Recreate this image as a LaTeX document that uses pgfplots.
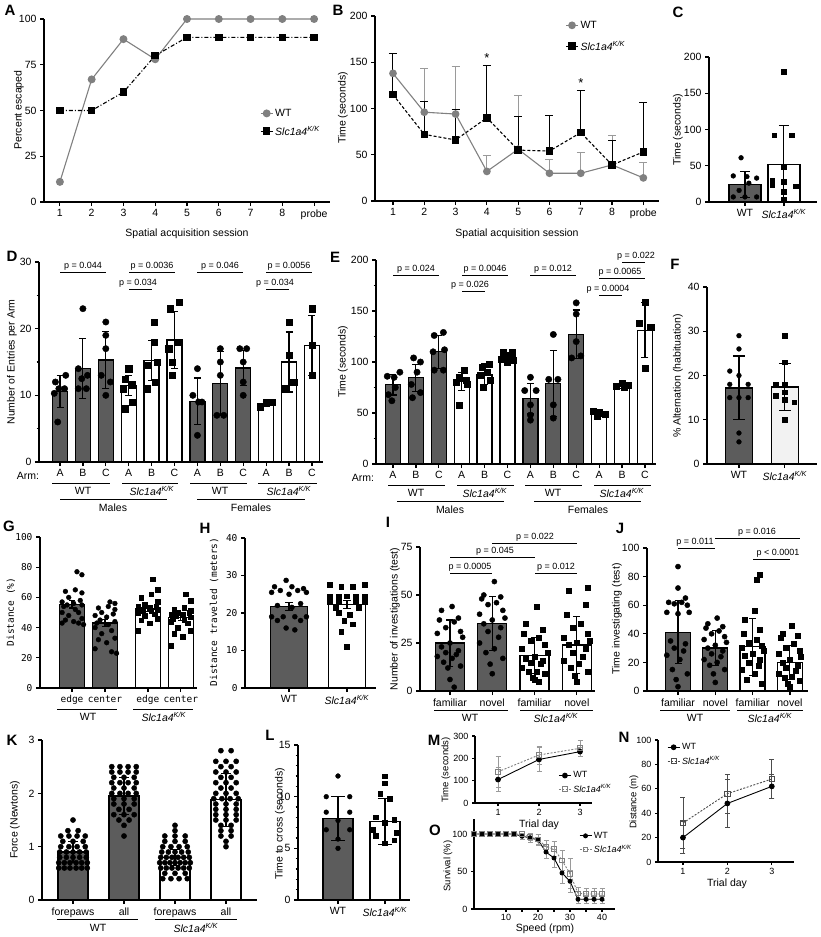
\documentclass[border=0pt]{standalone}
\usepackage{fontspec}
\setmainfont{Liberation Sans}
\newfontfamily\monof{DejaVu Sans Mono}
\usepackage{pgfplots}
\pgfplotsset{compat=1.18}
\definecolor{wtbar}{HTML}{5C5C5C}
\definecolor{wtgray}{HTML}{808080}
\definecolor{errgray}{HTML}{9A9A9A}
\definecolor{ltbar}{HTML}{F2F2F2}
\newcommand{\slc}{\textit{Slc1a4}\textsuperscript{\textit{K/K}}}
\newcommand{\fs}{\fontsize{10.5}{12}\selectfont}
\newcommand{\sfs}{\fontsize{9}{10}\selectfont}
\newcommand{\mfs}{\fontsize{9.5}{11}\selectfont}
% p-value bracket: x1, x2, y, text x, text
\newcommand{\pv}[5]{%
  \draw[line width=0.8pt] (#1,#3) -- (#2,#3);
  \node[anchor=south, inner sep=1pt, font=\fontsize{9}{10}\selectfont] at (#4,#3) {#5};}
\pgfplotsset{
  prism/.style={
    scale only axis, clip=false, anchor=south west,
    axis x line*=bottom, axis y line*=left,
    axis line style={line width=1.4pt},
    tick align=outside, major tick length=4pt, minor tick length=2.5pt,
    every tick/.style={black, line width=1.2pt},
    tick label style={font=\fs},
    /pgf/number format/assume math mode=true,
    ymin=0,
  },
  bars/.style={ybar, bar shift=0pt, bar width=#1, draw=black, line width=1.3pt},
  errb/.style={error bars/.cd, y dir=both, y explicit,
    error bar style={line width=1.1pt, black, solid},
    error mark options={rotate=90, mark size=#1, line width=1.1pt, black, solid}},
  errb/.default=4pt,
  lerr/.style={error bars/.cd, y dir=both, y explicit,
    error bar style={line width=0.8pt, #1, solid},
    error mark options={rotate=90, mark size=2.5pt, line width=0.8pt, #1, solid}},
  perr/.style={error bars/.cd, y dir=plus, y explicit,
    error bar style={line width=1pt, #1, solid},
    error mark options={rotate=90, mark size=4pt, line width=1pt, #1, solid}},
  dots/.style={only marks, mark=*, mark size=#1, black},
  sqs/.style={only marks, mark=square*, mark size=#1, black},
  leg/.style={legend image code/.code={\draw[mark repeat=2,mark phase=2,##1] plot coordinates {(0pt,0pt) (6pt,0pt) (12pt,0pt)};}},
}
\begin{document}
\begin{tikzpicture}[font=\fs]
\path[use as bounding box] (0pt,0pt) rectangle (821pt,-937pt);

% ---------------- A
\begin{axis}[prism, at={(44pt,-202pt)}, width=286pt, height=183pt,
  xmin=0.5, xmax=9.5, ymax=100, xtick={1,2,3,4,5,6,7,8,9},
  xticklabels={1,2,3,4,5,6,7,8,probe}, ytick={0,25,50,75,100},
  legend style={draw=none, fill=none, font=\fs, inner sep=0pt, row sep=4pt,
    at={(axis description cs:0.755,0.52)}, anchor=north west},
  legend cell align=left, leg]
\addplot[wtgray, line width=1.1pt, mark=*, mark size=3.4pt, mark options={fill=wtgray}]
  coordinates {(1,11) (2,67) (3,89) (4,78) (5,100) (6,100) (7,100) (8,100) (9,100)};
\addlegendentry{WT}
\addplot[black, line width=1.1pt, dash pattern=on 4pt off 2pt on 1pt off 2pt, mark=square*, mark size=3.2pt, mark options={solid}]
  coordinates {(1,50) (2,50) (3,60) (4,80) (5,90) (6,90) (7,90) (8,90) (9,90)};
\addlegendentry{\slc}
\end{axis}

% ---------------- B
\begin{axis}[prism, at={(375pt,-201pt)}, width=284pt, height=185pt,
  xmin=0.425, xmax=9.5, ymax=200, xtick={1,2,3,4,5,6,7,8,9},
  xticklabels={1,2,3,4,5,6,7,8,probe}, ytick={0,50,100,150,200},
  legend style={draw=none, fill=none, font=\fs, inner sep=0pt, row sep=7pt,
    at={(axis description cs:0.67,0.985)}, anchor=north west},
  legend cell align=left, leg]
\addplot[wtgray, line width=1.1pt, mark=*, mark size=3.3pt, mark options={fill=wtgray}, perr=errgray]
  coordinates {(1,138)+-(0,22) (2,96)+-(0,47) (3,94)+-(0,51) (4,32)+-(0,17) (5,56)+-(0,58)
  (6,30)+-(0,15) (7,30)+-(0,22) (8,39)+-(0,32) (9,25)+-(0,17)};
\addlegendentry{WT}
\addplot[black, line width=1.1pt, dash pattern=on 3pt off 2pt, mark=square*, mark size=3.2pt, mark options={solid}, perr=black]
  coordinates {(1,115)+-(0,45) (2,72)+-(0,36) (3,66)+-(0,33) (4,90)+-(0,57) (5,55)+-(0,36)
  (6,54)+-(0,38) (7,74)+-(0,46) (8,39)+-(0,26) (9,53)+-(0,53)};
\addlegendentry{\slc}
\end{axis}

% ---------------- C
\begin{axis}[prism, at={(709pt,-202pt)}, width=108pt, height=145pt,
  xmin=-0.923, xmax=1.85, ymax=200, xtick={0,1}, xticklabels={WT,\slc},
  ytick={0,50,100,150,200}]
\addplot[bars=32pt, fill=wtbar, errb=5pt] coordinates {(0,24)+-(0,18)};
\addplot[bars=32pt, fill=white, errb=5pt] coordinates {(1,52)+-(0,53)};
\addplot[dots=2.4pt] coordinates {(-0.1,61) (-0.3,36) (0.05,35) (0.3,33) (0.1,26) (-0.15,16) (-0.3,7) (0,7) (0.3,7)};
\addplot[sqs=2.3pt] coordinates {(1,180) (0.75,92) (1.2,92) (1,48) (0.7,30) (1,28) (0.7,24) (1.3,22) (1,14) (1,4)};
\end{axis}

% ---------------- D
\begin{axis}[prism, at={(39pt,-462pt)}, width=284.4pt, height=200pt,
  xmin=-0.917, xmax=11.5, ymax=30, ytick={0,10,20,30}, minor y tick num=1,
  xtick={0,...,11}, xticklabels={A,B,C,A,B,C,A,B,C,A,B,C}]
\addplot[bars=15pt, fill=wtbar, errb=3.5pt] coordinates {(0,10.6)+-(0,2.4) (1,14)+-(0,4.5) (2,15.3)+-(0,4.3)
  (6,9.1)+-(0,3.5) (7,11.8)+-(0,4.8) (8,14.1)+-(0,2.6)};
\addplot[bars=15pt, fill=white, errb=3.5pt] coordinates {(3,11.5)+-(0,1.5) (4,15.2)+-(0,3) (5,18.3)+-(0,4.3)
  (9,8.7)+-(0,0.4) (10,15)+-(0,4.5) (11,17.5)+-(0,4.5)};
\addplot[dots=3.2pt] coordinates {(-0.2,12) (0.25,13) (-0.05,11) (0.2,11) (-0.25,10.3) (-0.1,6)
  (1,23) (0.8,14) (1.2,13) (0.8,11) (1.15,11) (0.95,12.5)
  (2,21) (2,19) (2,17) (1.8,13) (2.2,12) (2,10)
  (6,14) (5.8,10) (6.2,9) (6.05,9) (6,4)
  (7,17) (7,15) (7,13) (6.85,7) (7.15,7)
  (7.85,17) (8.15,17) (8,15) (8,12) (8,10)};
\addplot[sqs=3.1pt] coordinates {(3,14) (2.85,12.4) (3.15,11.6) (2.75,11) (3.15,9) (2.85,8)
  (4.1,21) (4.1,18) (3.8,14.5) (4.25,15) (3.8,11) (4.15,12)
  (4.8,23) (5.2,24) (4.75,17) (5.15,18) (4.9,15) (4.9,13)
  (8.75,8.3) (9,9) (9.25,9)
  (10,21) (10,16) (9.8,11) (10.2,12)
  (11,23) (11,17.5) (11,13)};
\end{axis}

% ---------------- E
\begin{axis}[prism, at={(376pt,-464pt)}, width=280.4pt, height=204pt,
  xmin=-0.742, xmax=11.5, ymax=200, ytick={0,50,100,150,200}, minor y tick num=1,
  xtick={0,...,11}, xticklabels={A,B,C,A,B,C,A,B,C,A,B,C}]
\addplot[bars=15pt, fill=wtbar, errb=3.5pt] coordinates {(0,77.7)+-(0,10) (1,84.5)+-(0,13) (2,110)+-(0,16)
  (6,64)+-(0,15) (7,79)+-(0,32) (8,127)+-(0,24)};
\addplot[bars=15pt, fill=white, errb=3.5pt] coordinates {(3,81)+-(0,9) (4,88)+-(0,10) (5,105)+-(0,4)
  (9,50)+-(0,3) (10,77)+-(0,3) (11,131)+-(0,27)};
\addplot[dots=3.2pt] coordinates {(-0.25,86) (0.05,85) (0.3,90) (0.1,75) (-0.2,68) (-0.05,62)
  (0.9,104) (1.2,100) (1.05,90) (0.8,78) (1.2,70) (0.85,65)
  (1.8,126) (2.2,129) (1.75,110) (2.25,112) (1.8,92) (2.2,92)
  (6,85) (5.75,72) (6.25,72) (6,58) (6,48) (6,43)
  (7,127) (6.8,83) (7.2,83) (7,58) (7,45)
  (8,158) (8,147) (8,120) (7.8,104) (8.2,106)};
\addplot[sqs=3.1pt] coordinates {(3.1,92) (2.9,85) (3.2,82) (2.75,80) (3.25,78) (2.9,58)
  (4.2,98) (3.9,95) (4.1,90) (3.8,87) (4.25,82) (3.95,75)
  (4.8,110) (5.2,110) (5,107) (4.75,103) (5.25,102) (5,100)
  (8.75,52) (9,50) (9.25,49) (8.9,47)
  (9.75,76) (10,79) (10.25,77) (10.1,75)
  (11,159) (10.75,138) (11.25,134) (11,94)};
\end{axis}

% ---------------- F
\begin{axis}[prism, at={(707pt,-464pt)}, width=110pt, height=177pt,
  xmin=-0.696, xmax=1.7, ymax=40, ytick={0,10,20,30,40},
  xtick={0,1}, xticklabels={WT,\slc}]
\addplot[bars=27pt, fill=wtbar, errb=6pt] coordinates {(0,17.2)+-(0,7.2)};
\addplot[bars=27pt, fill=ltbar, errb=6pt] coordinates {(1,17.4)+-(0,5.4)};
\addplot[dots=2.4pt] coordinates {(0,29) (0,26) (-0.2,21) (0,20) (-0.2,18) (0.2,18) (-0.2,15) (0,15) (0.2,15) (0,7) (0,5)};
\addplot[sqs=2.3pt] coordinates {(1,29) (1,23) (0.8,18) (1,18) (0.8,15.5) (1,16.2) (1.2,14) (1,14.5) (1,10)};
\end{axis}

% ---------------- G
\begin{axis}[prism, at={(40pt,-688pt)}, width=157.4pt, height=151pt,
  xmin=-0.97, xmax=3.8, ymax=100, ytick={0,20,40,60,80,100},
  tick label style={font=\monof\mfs},
  xtick={0,1,2.3,3.3}, xticklabels={edge,center,edge,center}]
\addplot[bars=25pt, fill=wtbar, errb=3pt] coordinates {(0,55.5)+-(0,2.5) (1,43)+-(0,2.5)};
\addplot[bars=25pt, fill=white, errb=3pt] coordinates {(2.3,52.5)+-(0,2) (3.3,46.5)+-(0,2)};
\addplot[dots=2.4pt] coordinates {(0.15,77) (0.3,75) (0.1,65) (-0.2,64) (0.3,63) (-0.1,60) (0.25,58) (-0.3,57)
  (0.05,56) (-0.15,55) (0.3,55) (-0.25,54) (0.1,52) (-0.3,50) (0.2,50) (-0.1,48) (0.3,46) (-0.2,45)
  (0.05,44) (-0.3,43) (0.2,43) (0.35,42)
  (1.15,57) (1.3,56) (1.1,54) (0.8,53) (1.3,52) (0.9,50) (1.25,49) (0.7,48) (1.05,47) (0.85,45)
  (1.3,44) (0.75,43) (1.1,42) (0.7,40) (1.2,38) (0.9,36) (1.3,33) (0.8,32) (1.05,30) (0.7,26)
  (1.2,24) (1.35,23)};
\addplot[sqs=2.3pt] coordinates {(2.45,72) (2.6,65) (2.4,62) (2.1,60) (2.6,57) (2.2,55) (2.55,54) (2.0,54)
  (2.35,53) (2.15,52) (2.6,52) (2.05,51) (2.4,51) (2.0,50) (2.5,49) (2.2,48) (2.6,46) (2.1,45)
  (2.35,43) (2.0,38)
  (3.45,62) (3.6,58) (3.4,53) (3.1,52) (3.6,51) (3.2,50) (3.55,50) (3.0,49) (3.35,49) (3.15,48)
  (3.6,47) (3.05,46) (3.4,45) (3.0,44) (3.5,43) (3.2,40) (3.6,38) (3.1,36) (3.35,34) (3.0,28)};
\end{axis}

% ---------------- H
\begin{axis}[prism, at={(245pt,-688pt)}, width=131pt, height=150pt,
  xmin=-0.759, xmax=1.5, ymax=40, ytick={0,10,20,30,40},
  yticklabel style={font=\monof\mfs},
  xtick={0,1}, xticklabels={WT,\slc}]
\addplot[bars=37pt, fill=wtbar, errb=4pt] coordinates {(0,21.7)+-(0,1)};
\addplot[bars=37pt, fill=white, errb=4pt] coordinates {(1,22.3)+-(0,1)};
\addplot[dots=2.5pt] coordinates {(-0.05,28.7) (-0.25,27) (0.05,27) (0.25,26.5) (-0.15,26) (0.15,26) (-0.3,25.5)
  (0.3,25.5) (0,25) (-0.2,22) (0.2,22.5) (0.05,21.5) (-0.3,19) (-0.1,19) (0.1,19) (0.3,19)
  (-0.2,18) (0.2,18) (-0.05,16) (0.1,15.5)};
\addplot[sqs=2.4pt] coordinates {(0.7,27.5) (0.9,27) (1.1,27) (1.3,27.5) (0.7,24.5) (0.85,24.5) (1,24.5)
  (1.15,24.5) (1.3,24.5) (0.7,23) (0.85,23) (1.15,23) (1.3,23) (0.8,21.5) (1.2,21.5) (0.85,20)
  (1.05,19.5) (0.95,18) (1.1,17) (0.9,15) (1,11)};
\end{axis}

% ---------------- I
\begin{axis}[prism, at={(420pt,-691pt)}, width=175pt, height=144pt,
  xmin=-0.709, xmax=3.43, ymax=75, ytick={0,25,50,75},
  xtick={0,1,2,3}, xticklabels={familiar,novel,familiar,novel}]
\addplot[bars=29pt, fill=wtbar, errb=3.5pt] coordinates {(0,25)+-(0,12) (1,35)+-(0,14)};
\addplot[bars=29pt, fill=white, errb=3.5pt] coordinates {(2,18.5)+-(0,9.5) (3,24)+-(0,15)};
\addplot[dots=2.6pt] coordinates {(0.05,44) (-0.2,42) (0.2,38) (-0.25,37) (0.1,36) (-0.1,33) (0.25,31) (-0.3,30)
  (0.3,28) (0,25) (-0.2,23) (0.2,21) (-0.1,20) (0.15,19) (-0.3,18) (0.05,17) (-0.15,15) (0.25,13)
  (-0.05,12) (0,6) (0.1,2)
  (1.05,57) (0.8,50) (1.2,49) (0.75,48) (1.1,46) (0.9,45) (1.25,42) (0.7,40) (1.3,38) (1,37)
  (0.8,35) (1.2,33) (0.9,31) (1.15,28) (0.7,25) (1.05,22) (0.85,20) (1.25,17) (0.95,14) (1,9)};
\addplot[sqs=2.5pt] coordinates {(2.05,44) (1.8,35) (2.2,32) (1.75,30) (2.1,28) (1.9,26) (2.25,24) (1.7,22)
  (2.3,20) (2,18) (1.8,17) (2.2,16) (1.9,15) (2.15,14) (1.7,12) (2.05,10) (1.85,10) (2.25,9)
  (1.95,7) (2,6) (2.1,5)
  (3.25,54) (2.8,52) (3.2,45) (2.75,40) (3.1,35) (2.9,33) (3.25,30) (2.7,28) (3.3,26) (3,25)
  (2.8,24) (3.2,22) (2.9,20) (3.15,18) (2.7,16) (3.05,14) (2.85,12) (3.25,10) (2.95,8) (3,5)};
\end{axis}

% ---------------- J
\begin{axis}[prism, at={(647pt,-691pt)}, width=160.8pt, height=143pt,
  xmin=-0.831, xmax=3.48, ymax=100, ytick={0,20,40,60,80,100},
  xtick={0,1,2,3}, xticklabels={familiar,novel,familiar,novel}]
\addplot[bars=25pt, fill=wtbar, errb=3.5pt] coordinates {(0,41)+-(0,22) (1,30)+-(0,12)};
\addplot[bars=25pt, fill=white, errb=3.5pt] coordinates {(2,31)+-(0,20) (3,20)+-(0,12)};
\addplot[dots=2.6pt] coordinates {(0,87) (0,72) (0.2,65) (-0.25,62) (0.1,62) (-0.1,61) (0.25,60) (-0.3,55)
  (0.3,55) (0,54) (-0.2,35) (0.2,33) (-0.1,30) (0.15,28) (-0.3,25) (0.05,22) (-0.15,15) (0.25,12)
  (-0.05,8) (0,3)
  (1.05,51) (0.8,47) (1.2,45) (0.75,44) (1.1,42) (0.9,40) (1.25,38) (0.7,36) (1.3,34) (1,32)
  (0.8,30) (1.2,28) (0.9,26) (1.15,24) (0.7,22) (1.05,20) (0.85,18) (1.25,15) (0.95,12) (1,6)};
\addplot[sqs=2.5pt] coordinates {(2.2,81) (2.1,78) (2.05,56) (1.8,50) (2.2,43) (1.75,40) (2.1,36) (1.9,34)
  (2.25,32) (1.7,30) (2.3,28) (2,26) (1.8,25) (2.2,22) (1.9,20) (2.15,18) (1.7,15) (2.05,12)
  (1.85,8) (2.25,5)
  (3.05,46) (2.8,40) (3.2,39) (2.75,37) (3.1,33) (2.9,30) (3.25,28) (2.7,26) (3.3,24) (3,22)
  (2.8,20) (3.2,18) (2.9,16) (3.15,14) (2.7,12) (3.05,10) (2.85,9) (3.25,7) (2.95,5) (3,3)};
\end{axis}

% ---------------- K
\begin{axis}[prism, at={(42pt,-900pt)}, width=214.6pt, height=160pt,
  xmin=-0.608, xmax=3.6, ymax=3, ytick={0,1,2,3},
  xtick={0,1,2,3}, xticklabels={forepaws,all,forepaws,all}]
\addplot[bars=30pt, fill=wtbar, errb=5pt] coordinates {(0,0.9)+-(0,0.2) (1,1.95)+-(0,0.35)};
\addplot[bars=30pt, fill=white, errb=5pt] coordinates {(2,0.8)+-(0,0.15) (3,1.88)+-(0,0.5)};
\addplot[dots=2.6pt] coordinates {
  (0,1.5)
  (-0.1,1.3) (0.1,1.3)
  (-0.24,1.2) (-0.08,1.2) (0.08,1.2) (0.24,1.2)
  (-0.2,1.1) (0,1.1) (0.2,1.1)
  (-0.24,1.0) (-0.08,1.0) (0.08,1.0) (0.24,1.0)
  (-0.26,0.9) (-0.13,0.9) (0,0.9) (0.13,0.9) (0.26,0.9)
  (-0.26,0.8) (-0.13,0.8) (0,0.8) (0.13,0.8) (0.26,0.8)
  (-0.28,0.7) (-0.17,0.7) (-0.06,0.7) (0.06,0.7) (0.17,0.7) (0.28,0.7)
  (-0.28,0.6) (-0.17,0.6) (-0.06,0.6) (0.06,0.6) (0.17,0.6) (0.28,0.6)
  (0.76,2.5) (0.92,2.5) (1.08,2.5) (1.24,2.5)
  (0.76,2.4) (0.92,2.4) (1.08,2.4) (1.24,2.4)
  (0.8,2.3) (1,2.3) (1.2,2.3)
  (0.76,2.2) (0.92,2.2) (1.08,2.2) (1.24,2.2)
  (0.8,2.1) (1,2.1) (1.2,2.1)
  (0.76,2.0) (0.92,2.0) (1.08,2.0) (1.24,2.0)
  (0.8,1.9) (1,1.9) (1.2,1.9)
  (0.8,1.8) (1,1.8) (1.2,1.8)
  (0.9,1.7) (1.1,1.7)
  (0.8,1.6) (1,1.6) (1.2,1.6)
  (0.9,1.5) (1.1,1.5)
  (1,1.4)
  (1,1.2)
  (2,1.4)
  (2,1.3)
  (1.8,1.2) (2,1.2) (2.2,1.2)
  (1.8,1.1) (2,1.1) (2.2,1.1)
  (1.76,1.0) (1.92,1.0) (2.08,1.0) (2.24,1.0)
  (1.74,0.9) (1.87,0.9) (2,0.9) (2.13,0.9) (2.26,0.9)
  (1.72,0.8) (1.83,0.8) (1.94,0.8) (2.06,0.8) (2.17,0.8) (2.28,0.8)
  (1.7,0.7) (1.8,0.7) (1.9,0.7) (2,0.7) (2.1,0.7) (2.2,0.7) (2.3,0.7)
  (1.72,0.6) (1.83,0.6) (1.94,0.6) (2.06,0.6) (2.17,0.6) (2.28,0.6)
  (1.8,0.5) (2,0.5) (2.2,0.5)
  (1.76,0.4) (1.92,0.4) (2.08,0.4) (2.24,0.4)
  (2.9,2.8) (3.1,2.8)
  (2.8,2.6) (3,2.6) (3.2,2.6)
  (2.9,2.5) (3.1,2.5)
  (2.8,2.4) (3,2.4) (3.2,2.4)
  (2.9,2.3) (3.1,2.3)
  (2.8,2.2) (3,2.2) (3.2,2.2)
  (2.9,2.1) (3.1,2.1)
  (2.8,2.0) (3,2.0) (3.2,2.0)
  (2.76,1.9) (2.92,1.9) (3.08,1.9) (3.24,1.9)
  (2.8,1.8) (3,1.8) (3.2,1.8)
  (2.8,1.7) (3,1.7) (3.2,1.7)
  (2.8,1.6) (3,1.6) (3.2,1.6)
  (2.8,1.5) (3,1.5) (3.2,1.5)
  (2.9,1.4) (3.1,1.4)
  (2.9,1.3) (3.1,1.3)
  (2.9,1.2) (3.1,1.2)
  (3,1.1)
  (3,1.0)};
\end{axis}

% ---------------- L
\begin{axis}[prism, at={(298pt,-900pt)}, width=111.9pt, height=155pt,
  xmin=-0.851, xmax=1.53, ymax=15, ytick={0,5,10,15}, minor y tick num=4,
  xtick={0,1}, xticklabels={WT,\slc}]
\addplot[bars=30pt, fill=wtbar, errb=7pt] coordinates {(0,7.9)+-(0,2.1)};
\addplot[bars=30pt, fill=white, errb=7pt] coordinates {(1,7.6)+-(0,2.2)};
\addplot[dots=2.4pt] coordinates {(0,12) (-0.25,10) (0.25,10) (-0.25,8.5) (0.25,8.5) (0,7.7) (-0.25,6.8) (0.25,6.8) (0,5.9) (0,5)};
\addplot[sqs=2.3pt] coordinates {(1,12) (1,11.3) (0.9,10.3) (1.1,9.8) (0.8,8) (1.2,7.8) (1,7.5) (0.75,6.8) (1.25,6.5) (0.8,6.2) (1.2,5.8) (1,5.5)};
\end{axis}

% ---------------- M
\begin{axis}[prism, at={(475pt,-803pt)}, width=117.3pt, height=67pt,
  xmin=0.439, xmax=3.3, ymax=300, ytick={0,100,200,300}, xtick={1,2,3},
  tick label style={font=\sfs}, major tick length=3pt,
  legend style={draw=none, fill=none, font=\sfs, inner sep=0pt, row sep=1pt,
    at={(axis description cs:0.71,0.5)}, anchor=north west},
  legend cell align=left, leg]
\addplot[black, line width=0.9pt, mark=*, mark size=2.4pt, lerr=errgray]
  coordinates {(1,105)+-(0,55) (2,195)+-(0,55) (3,230)+-(0,20)};
\addlegendentry{WT}
\addplot[wtgray, line width=0.9pt, dash pattern=on 2pt off 1.5pt, mark=square, mark size=2.4pt, mark options={solid}, lerr=errgray]
  coordinates {(1,140)+-(0,70) (2,215)+-(0,40) (3,245)+-(0,35)};
\addlegendentry{\slc}
\end{axis}

% ---------------- N
\begin{axis}[prism, at={(658pt,-862pt)}, width=136pt, height=122pt,
  xmin=0.438, xmax=3.5, ymax=100, ytick={0,20,40,60,80,100}, xtick={1,2,3},
  tick label style={font=\sfs}, major tick length=3pt,
  legend style={draw=none, fill=none, font=\sfs, inner sep=0pt, row sep=1pt,
    at={(axis description cs:0.066,0.99)}, anchor=north west},
  legend cell align=left, leg]
\addplot[black, line width=0.9pt, mark=*, mark size=2.4pt, lerr=black!70]
  coordinates {(1,20)+-(0,13) (2,48)+-(0,20) (3,62)+-(0,10)};
\addlegendentry{WT}
\addplot[black!70, line width=0.9pt, dash pattern=on 2pt off 1.5pt, mark=square, mark size=2.6pt, mark options={solid}, lerr=black!70]
  coordinates {(1,32)+-(0,21) (2,56)+-(0,16) (3,68)+-(0,16)};
\addlegendentry{\slc}
\end{axis}

% ---------------- O
\begin{axis}[prism, at={(474pt,-909pt)}, width=140.8pt, height=90pt,
  xmin=0, xmax=44, ymax=120, ytick={0,50,100}, xtick={10,20,30,40}, minor x tick num=1,
  tick label style={font=\sfs}, major tick length=3pt,
  xticklabel style={yshift=1.5pt},
  legend style={draw=none, fill=none, font=\sfs, inner sep=0pt, row sep=1pt,
    at={(axis description cs:0.745,0.88)}, anchor=north west},
  legend cell align=left, leg]
\addplot[black, line width=0.9pt, mark=*, mark size=2pt, lerr=errgray]
  coordinates {(0,100)+-(0,0) (2.5,100)+-(0,0) (5,100)+-(0,0) (7.5,100)+-(0,0) (10,100)+-(0,0)
  (12.5,100)+-(0,0) (15,97)+-(0,4) (17.5,95)+-(0,6) (20,92)+-(0,7) (22.5,76)+-(0,8)
  (25,68)+-(0,12) (27.5,48)+-(0,14) (30,37)+-(0,15) (32.5,13)+-(0,5) (35,13)+-(0,5)
  (37.5,13)+-(0,5) (40,13)+-(0,5)};
\addlegendentry{WT}
\addplot[wtgray, line width=0.9pt, dash pattern=on 2pt off 1.5pt, mark=square, mark size=2.2pt, mark options={solid}, lerr=errgray]
  coordinates {(0,100)+-(0,0) (2.5,100)+-(0,0) (5,100)+-(0,0) (7.5,100)+-(0,0) (10,100)+-(0,0)
  (12.5,100)+-(0,0) (15,100)+-(0,0) (17.5,96)+-(0,5) (20,93)+-(0,7) (22.5,83)+-(0,8)
  (25,80)+-(0,10) (27.5,65)+-(0,13) (30,47)+-(0,20) (32.5,21)+-(0,8) (35,20)+-(0,8)
  (37.5,20)+-(0,8) (40,20)+-(0,8)};
\addlegendentry{\slc}
\end{axis}

% ---------------- annotations (pixel coordinates, y downwards)
\begin{scope}[x=1pt, y=-1pt]
\tikzset{lt/.style={font=\bfseries\fontsize{15}{15}\selectfont}}
\node[lt] at (10,10) {A};
\node[lt] at (338,10) {B};
\node[lt] at (678,12) {C};
\node[lt] at (12,256) {D};
\node[lt] at (335,257) {E};
\node[lt] at (675,264) {F};
\node[lt] at (9,526) {G};
\node[lt] at (205,528) {H};
\node[lt] at (388,522) {I};
\node[lt] at (620,528) {J};
\node[lt] at (12,740) {K};
\node[lt] at (270,735) {L};
\node[lt] at (434,740) {M};
\node[lt] at (624,737) {N};
\node[lt] at (435,830) {O};

% axis titles
\node[rotate=90] at (19,110) {Percent escaped};
\node[rotate=90] at (343,108) {Time (seconds)};
\node[rotate=90] at (678,130) {Time (seconds)};
\node[rotate=90] at (12,362) {Number of Entries per Arm};
\node[rotate=90] at (343,362) {Time (seconds)};
\node[rotate=90] at (678,376) {\% Alternation (habituation)};
\node[rotate=90, font=\monof\mfs] at (11,612) {Distance (\%)};
\node[rotate=90, font=\monof\mfs] at (214,612) {Distance traveled (meters)};
\node[rotate=90] at (395,619) {Number of investigations (test)};
\node[rotate=90] at (617,619) {Time investigating (test)};
\node[rotate=90] at (15,820) {Force (Newtons)};
\node[rotate=90] at (280,824) {Time to cross (seconds)};
\node[rotate=90, font=\mfs] at (446,770) {Time (seconds)};
\node[rotate=90, font=\mfs] at (634,802) {Distance (m)};
\node[rotate=90, font=\mfs] at (448,866) {Survival (\%)};
\node at (187,234) {Spatial acquisition session};
\node at (517,234) {Spatial acquisition session};
\node at (539,825) {Trial day};
\node at (727,884) {Trial day};
\node at (545,929) {Speed (rpm)};

% B stars
\node[font=\fontsize{13}{13}\selectfont] at (487,58) {*};
\node[font=\fontsize{13}{13}\selectfont] at (581,83) {*};

% group labels
\node at (28,476) {Arm:};
\node at (363,478) {Arm:};
\begin{scope}[line width=0.9pt]
\draw (52,483) -- (110,483); \draw (122,483) -- (178,483);
\draw (190,483) -- (247,483); \draw (258,483) -- (317,483);
\draw (60,499) -- (167,499); \draw (197,499) -- (305,499);
\draw (388,485) -- (445,485); \draw (457,485) -- (514,485);
\draw (525,485) -- (582,485); \draw (594,485) -- (651,485);
\draw (397,501) -- (504,501); \draw (534,501) -- (641,501);
\draw (57,709) -- (117,709); \draw (133,709) -- (193,709);
\draw (434,710) -- (508,710); \draw (520,710) -- (593,710);
\draw (660,710) -- (730,710); \draw (737,710) -- (803,710);
\draw (57,919) -- (138,919); \draw (155,919) -- (237,919);
\end{scope}
\node at (83,491) {WT}; \node at (152,491) {\slc};
\node at (220,491) {WT}; \node at (289,491) {\slc};
\node at (113,508) {Males}; \node at (251,508) {Females};
\node at (416,493) {WT}; \node at (485,493) {\slc};
\node at (553,493) {WT}; \node at (622,493) {\slc};
\node at (450,510) {Males}; \node at (588,510) {Females};
\node at (88,717) {WT}; \node at (164,717) {\slc};
\node at (470,718) {WT}; \node at (556,718) {\slc};
\node at (695,718) {WT}; \node at (770,718) {\slc};
\node at (98,928) {WT}; \node at (196,928) {\slc};

% p values
\pv{60}{106}{272}{83}{p = 0.044}
\pv{129}{175}{272}{152}{p = 0.0036}
\pv{129}{152}{289}{138}{p = 0.034}
\pv{197}{243}{272}{220}{p = 0.046}
\pv{266}{312}{272}{289}{p = 0.0056}
\pv{266}{289}{289}{275}{p = 0.034}
\pv{393}{439}{275}{416}{p = 0.024}
\pv{462}{508}{275}{485}{p = 0.0046}
\pv{462}{485}{291}{470}{p = 0.026}
\pv{530}{576}{275}{553}{p = 0.012}
\pv{622}{645}{262}{636}{p = 0.022}
\pv{599}{645}{278}{620}{p = 0.0065}
\pv{599}{622}{295}{608}{p = 0.0004}
\pv{492}{577}{543}{535}{p = 0.022}
\pv{450}{535}{557}{495}{p = 0.045}
\pv{450}{492}{573}{470}{p = 0.0005}
\pv{535}{577}{573}{556}{p = 0.012}
\pv{678}{715}{548}{695}{p = 0.011}
\pv{715}{800}{538}{757}{p = 0.016}
\pv{753}{790}{559}{778}{p < 0.0001}
\end{scope}
\end{tikzpicture}
\end{document}
